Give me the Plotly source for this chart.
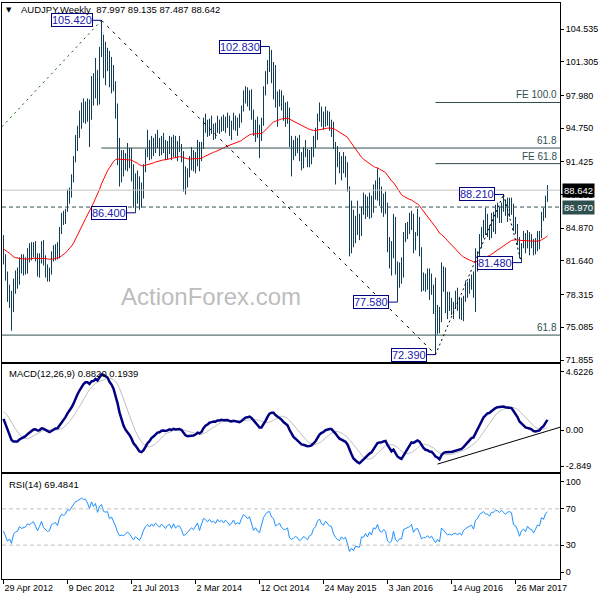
import pandas as pd
import plotly.graph_objects as go

# ---------------- data ----------------
first_week = "2012-04-29"

# weekly closes of the 40 weeks before the first visible bar (off the left edge);
# they only warm up the EMA / MACD / RSI so the indicators start where the chart shows them
pre_close = [84.6, 83.1, 80.3, 80.0, 80.6, 81.1, 80.0, 80.2, 75.7, 74.8,
             76.0, 79.0, 78.9, 81.2, 81.5, 80.4, 78.8, 75.5, 79.5, 79.3,
             77.9, 78.5, 79.3, 79.6, 79.8, 81.5, 81.6, 81.9, 82.5, 84.6,
             86.4, 87.5, 87.2, 87.9, 87.0, 85.6, 84.2, 83.8, 84.6, 84.6]

high = [84.2, 82.3, 80.6, 79.3, 78.7, 79.9, 80.7, 81.0, 82.0, 82.3,
        82.3, 82.0, 82.9, 83.4, 83.5, 83.5, 83.6, 82.4, 82.4, 83.6,
        83.7, 82.2, 81.3, 81.0, 82.6, 83.2, 83.3, 83.5, 85.0, 86.4,
        86.6, 86.8, 88.7, 88.9, 90.2, 92.0, 94.1, 95.0, 96.5, 97.3,
        97.7, 97.4, 97.7, 97.6, 99.9, 100.2, 101.7, 100.5, 102.8, 105.42,
        104.0, 103.3, 102.7, 102.4, 101.8, 101.0, 99.4, 97.2, 93.8, 92.6,
        92.6, 92.3, 93.3, 92.8, 92.8, 91.2, 90.3, 90.6, 90.0, 89.4,
        91.2, 92.7, 94.6, 93.6, 94.0, 93.8, 94.2, 94.6, 93.8, 94.0,
        94.3, 93.6, 93.5, 94.0, 93.9, 94.1, 94.0, 93.5, 94.0, 93.2,
        92.5, 91.0, 90.8, 92.0, 92.9, 92.6, 92.4, 93.6, 93.4, 93.4,
        95.8, 96.2, 95.6, 95.7, 96.0, 95.2, 95.3, 96.0, 95.6, 95.9,
        96.1, 95.9, 96.3, 96.0, 95.5, 96.3, 96.0, 95.8, 96.2, 97.0,
        98.5, 98.9, 98.8, 98.5, 98.6, 96.6, 95.6, 95.9, 95.1, 95.8,
        98.9, 100.4, 101.5, 102.83, 102.5, 101.3, 101.0, 98.4, 98.6, 98.5,
        98.0, 97.3, 97.4, 96.8, 94.0, 93.6, 94.0, 93.8, 94.1, 92.4,
        92.9, 93.6, 92.7, 92.6, 92.9, 94.0, 94.8, 96.2, 97.3, 96.9,
        96.4, 96.9, 96.5, 96.4, 95.6, 95.4, 93.4, 93.0, 92.4, 92.0,
        92.4, 92.0, 91.4, 89.0, 87.6, 86.7, 86.1, 87.6, 86.3, 87.0,
        88.4, 88.2, 88.0, 88.4, 88.1, 89.2, 89.6, 90.8, 89.9, 89.0,
        88.3, 88.5, 87.4, 84.0, 83.6, 86.3, 86.0, 81.6, 81.5, 82.0,
        84.5, 85.4, 85.5, 86.4, 86.6, 86.3, 84.5, 86.8, 86.0, 83.0,
        80.5, 80.4, 80.9, 80.9, 80.4, 79.3, 80.0, 77.3, 77.1, 81.5,
        81.1, 81.0, 78.6, 78.6, 78.0, 77.6, 78.7, 79.0, 78.1, 78.0,
        78.2, 79.7, 79.6, 79.9, 80.3, 80.6, 82.9, 82.6, 84.3, 85.0,
        85.7, 86.9, 86.3, 85.2, 86.4, 86.5, 87.2, 87.4, 87.0, 87.4,
        88.21, 87.7, 87.9, 87.9, 87.9, 87.3, 86.0, 85.3, 84.0, 83.4,
        84.6, 84.4, 84.7, 84.5, 84.3, 83.8, 83.9, 84.6, 84.6, 86.5,
        86.9, 88.1, 89.135]

low = [81.3, 79.7, 77.6, 77.0, 74.75, 76.6, 78.4, 78.9, 79.3, 80.4,
       80.2, 80.3, 80.4, 81.5, 81.7, 82.0, 81.6, 80.1, 80.0, 81.4,
       81.2, 80.0, 79.6, 79.6, 80.3, 81.6, 81.7, 81.8, 81.9, 84.3,
       85.2, 85.3, 86.5, 87.3, 87.9, 89.4, 91.4, 92.5, 93.8, 94.7,
       95.3, 95.2, 95.4, 92.9, 95.6, 97.0, 97.7, 97.0, 97.1, 101.8,
       99.7, 99.0, 100.4, 98.8, 98.2, 98.4, 95.7, 91.1, 89.0, 89.4,
       90.0, 90.6, 90.5, 90.8, 89.5, 86.9, 86.40, 87.3, 86.7, 86.9,
       87.8, 90.4, 91.9, 91.6, 91.7, 92.0, 92.3, 92.8, 92.0, 92.1,
       92.3, 91.6, 91.7, 92.2, 91.6, 91.9, 91.8, 91.5, 92.4, 91.4,
       88.5, 88.2, 88.9, 89.9, 90.6, 90.5, 90.3, 91.0, 90.5, 91.5,
       92.7, 94.3, 93.9, 94.0, 94.2, 93.6, 93.7, 94.3, 94.2, 94.4,
       94.5, 94.3, 94.8, 94.0, 93.6, 94.6, 94.5, 94.0, 94.8, 95.3,
       96.4, 97.2, 96.9, 96.5, 95.6, 94.0, 93.4, 93.8, 91.8, 93.5,
       95.0, 98.0, 99.1, 100.3, 99.2, 97.6, 96.8, 94.9, 96.9, 96.5,
       95.5, 94.9, 95.2, 92.9, 90.0, 91.6, 92.0, 92.3, 91.5, 90.6,
       90.8, 91.9, 90.9, 90.9, 91.2, 91.9, 92.8, 93.6, 95.4, 94.9,
       94.6, 94.9, 95.0, 94.5, 93.9, 92.7, 89.2, 90.9, 90.3, 89.6,
       90.3, 89.9, 88.5, 82.1, 82.4, 83.0, 83.4, 84.2, 83.7, 84.1,
       86.2, 85.8, 86.0, 85.8, 85.9, 86.4, 87.7, 87.6, 87.1, 86.4,
       86.0, 86.3, 82.5, 80.9, 80.2, 81.9, 80.3, 77.58, 79.0, 79.4,
       80.0, 83.5, 83.8, 84.3, 84.7, 82.4, 82.7, 84.1, 82.1, 78.6,
       78.7, 78.6, 78.8, 77.8, 78.3, 76.4, 72.39, 74.4, 74.5, 75.6,
       78.6, 76.5, 75.9, 76.7, 76.3, 75.9, 76.9, 76.7, 75.9, 75.8,
       75.7, 77.6, 78.0, 78.4, 78.8, 78.0, 76.6, 80.6, 81.5, 82.9,
       83.9, 84.2, 84.0, 83.7, 83.9, 84.5, 84.3, 85.9, 85.4, 85.4,
       86.5, 86.1, 85.5, 86.0, 86.2, 84.6, 84.3, 83.2, 81.9, 81.48,
       82.9, 82.4, 82.9, 82.2, 82.9, 82.2, 82.3, 82.6, 82.8, 83.9,
       85.6, 85.9, 87.487]

close = [82.0, 80.0, 77.8, 78.4, 76.1, 78.9, 79.7, 79.9, 81.6, 80.9,
         81.3, 81.4, 82.4, 82.2, 82.7, 83.1, 82.0, 80.6, 81.8, 83.5,
         81.6, 81.1, 80.3, 80.5, 82.3, 82.7, 83.0, 82.2, 84.7, 86.3,
         86.0, 86.6, 88.6, 88.4, 89.9, 91.4, 93.9, 94.4, 95.2, 96.8,
         96.5, 96.9, 96.1, 95.0, 99.4, 98.2, 100.6, 98.0, 102.5, 104.2,
         101.8, 101.5, 101.9, 99.2, 100.4, 98.8, 96.5, 93.5, 91.0, 91.3,
         91.0, 91.6, 92.5, 91.4, 90.0, 88.2, 89.3, 88.1, 87.2, 88.5,
         90.8, 92.3, 93.2, 92.2, 93.5, 92.6, 93.9, 93.2, 92.4, 93.6,
         92.7, 92.0, 93.1, 93.5, 92.1, 93.8, 92.3, 93.0, 93.0, 91.8,
         89.6, 89.8, 90.5, 91.2, 91.8, 91.2, 92.0, 93.2, 90.9, 92.9,
         95.4, 95.0, 94.3, 95.3, 94.5, 94.8, 94.2, 95.6, 94.9, 95.5,
         94.8, 95.7, 95.2, 94.4, 95.0, 96.0, 94.9, 95.4, 95.1, 96.7,
         98.1, 97.8, 97.2, 97.9, 96.0, 94.4, 95.1, 94.1, 93.6, 95.5,
         98.5, 99.9, 101.1, 101.3, 99.9, 99.5, 97.3, 97.7, 98.2, 97.0,
         96.3, 96.3, 96.7, 93.2, 92.6, 92.9, 93.3, 92.8, 91.7, 92.0,
         92.6, 92.1, 91.5, 92.3, 92.5, 93.8, 94.3, 95.8, 96.4, 95.4,
         95.0, 96.1, 95.6, 95.0, 94.9, 93.0, 92.0, 91.2, 90.9, 91.6,
         90.9, 91.2, 89.0, 84.9, 85.6, 84.0, 85.0, 84.6, 84.4, 86.8,
         86.6, 87.6, 86.3, 87.6, 86.6, 88.7, 88.3, 89.8, 87.5, 87.0,
         87.8, 87.2, 82.9, 81.9, 82.3, 85.6, 80.8, 79.6, 80.6, 80.5,
         84.2, 84.6, 84.9, 85.4, 86.3, 82.9, 84.2, 84.5, 82.3, 79.1,
         79.6, 79.5, 80.2, 79.0, 79.6, 77.6, 76.0, 77.0, 75.6, 80.8,
         79.5, 78.3, 77.2, 77.5, 77.0, 77.4, 77.7, 76.8, 77.5, 76.5,
         78.0, 78.6, 79.1, 79.4, 79.7, 78.5, 81.6, 82.2, 84.0, 84.6,
         85.4, 84.8, 84.8, 84.3, 85.9, 85.9, 86.7, 86.6, 86.3, 87.1,
         86.8, 86.4, 87.1, 87.3, 87.1, 84.9, 84.7, 83.7, 82.0, 83.2,
         83.6, 82.9, 84.2, 83.5, 83.4, 82.5, 83.3, 84.3, 84.1, 86.4,
         86.0, 87.997, 88.642]

assert len(high) == len(low) == len(close)

# drawn levels / objects
fib_618_high = 92.80     # 61.8% of 105.42 -> 72.39
fib_618_low = 74.32      # lower 61.8% retracement
fe_100 = 97.30
fe_618 = 91.26
dashed_level = 86.97
last_price = 88.642
green_line_start = 94.9  # where the dotted green up-trend line enters the chart

# (week index, price) of the boxed swing labels
swing_points = [(49, 105.42), (66, 86.40), (133, 102.83), (197, 77.58),
                (216, 72.39), (250, 88.21), (259, 81.48)]
macd_trend = [(217, -2.70), (None, 0.22)]

price_ticks = [104.535, 101.305, 97.980, 94.750, 91.425, 88.195, 84.870,
               81.640, 78.315, 75.085, 71.855]
macd_ticks = [4.6226, 0.0, -2.849]
macd_tick_text = ["4.6226", "0.00", "-2.849"]
rsi_ticks = [100, 70, 30, 0]
rsi_levels = [70, 30]

header_text = "AUDJPY,Weekly\u00a0\u00a087.997 89.135 87.487 88.642"
macd_text = "MACD(12,26,9) 0.8820 0.1939"
rsi_text = "RSI(14) 69.4841"

# ---------------- indicators ----------------
dates = pd.date_range(first_week, periods=len(close), freq="7D")
n0 = len(pre_close)
full = pd.Series(pre_close + close, dtype=float)
ma55 = full.ewm(span=55, adjust=False).mean().iloc[n0:].to_numpy()
macd_full = full.ewm(span=12, adjust=False).mean() - full.ewm(span=26, adjust=False).mean()
signal_full = macd_full.rolling(9).mean()
macd = macd_full.iloc[n0:].to_numpy()
signal = signal_full.iloc[n0:].to_numpy()
delta = full.diff().fillna(0)
ag = delta.clip(lower=0).ewm(alpha=1 / 14, adjust=False).mean()
al = (-delta).clip(lower=0).ewm(alpha=1 / 14, adjust=False).mean()
rsi = (100 - 100 / (1 + ag / al)).iloc[n0:].to_numpy()
opens = [pre_close[-1]] + close[:-1]

week = pd.Timedelta(days=7)
# 2 px per week; the quarter-week offset puts each 1px bar on a pixel centre
x_lo = dates[0] - 0.75 * week
x_hi = x_lo + 279 * week

BAR = "#123d57"
SLATE = "#2F4F4F"
FONT = "Liberation Sans"

fig = go.Figure()
fig.add_trace(go.Ohlc(x=dates, open=opens, high=high, low=low, close=close,
                      increasing=dict(line=dict(color=BAR, width=1)),
                      decreasing=dict(line=dict(color=BAR, width=1)),
                      tickwidth=0.1, xaxis="x", yaxis="y", hoverinfo="skip"))
fig.add_trace(go.Scatter(x=dates, y=ma55, mode="lines", line=dict(color="#FF0000", width=1),
                         xaxis="x", yaxis="y", hoverinfo="skip"))
fig.add_trace(go.Scatter(x=dates, y=signal, mode="lines", line=dict(color="#C0C0C0", width=1),
                         xaxis="x2", yaxis="y2", hoverinfo="skip"))
fig.add_trace(go.Scatter(x=dates, y=macd, mode="lines", line=dict(color="#000080", width=2.5),
                         xaxis="x2", yaxis="y2", hoverinfo="skip"))
fig.add_trace(go.Scatter(x=dates, y=rsi, mode="lines", line=dict(color="#1E90FF", width=1),
                         xaxis="x3", yaxis="y3", hoverinfo="skip"))

shapes = []


def seg(x0, y0, x1, y1, color, dash="solid", xref="x", yref="y", width=1):
    shapes.append(dict(type="line", xref=xref, yref=yref, x0=x0, y0=y0, x1=x1, y1=y1,
                       line=dict(color=color, width=width, dash=dash), layer="above"))


# horizontal levels
seg(x_lo, last_price, x_hi, last_price, "#C0C0C0")
seg(x_lo, dashed_level, x_hi, dashed_level, SLATE, "4px,3px")
seg(dates[49], fib_618_high, x_hi, fib_618_high, SLATE)
seg(x_lo, fib_618_low, x_hi, fib_618_low, SLATE)
seg(dates[216], fe_100, x_hi, fe_100, SLATE)
seg(dates[216], fe_618, x_hi, fe_618, SLATE)
# trend lines
seg(x_lo, green_line_start, dates[49], 105.42, "#006400", "2px,4px")
seg(dates[49], 105.42, dates[216], 72.39, "#000000", "3px,5px")
seg(dates[216], 72.39, dates[250], 88.21, "#000000", "2px,3px")
seg(dates[250], 88.21, dates[259], 81.48, "#000000", "2px,3px")
# MACD trend line
seg(dates[macd_trend[0][0]], macd_trend[0][1], x_hi, macd_trend[1][1], "#000000",
    xref="x2", yref="y2")
# RSI levels
for lv in rsi_levels:
    seg(x_lo, lv, x_hi, lv, "#C0C0C0", "4px,3px", xref="x3", yref="y3")
# label connectors
for i, v in swing_points:
    shapes.append(dict(type="line", xref="x", yref="y", xsizemode="pixel", xanchor=dates[i],
                       x0=-9, x1=0, y0=v, y1=v, line=dict(color="#000080", width=1),
                       layer="above"))

annotations = []
for i, v in swing_points:
    annotations.append(dict(x=dates[i], y=v, xref="x", yref="y", text=f"{v:.3f}",
                            showarrow=False, xanchor="right", yanchor="middle", xshift=-9,
                            bordercolor="#000080", borderwidth=1, borderpad=0,
                            bgcolor="white", font=dict(family=FONT, size=11, color="#2020b0")))

for txt, lv in [("61.8", fib_618_high), ("61.8", fib_618_low), ("FE 100.0", fe_100),
                ("FE 61.8", fe_618)]:
    annotations.append(dict(x=1, y=lv, xref="paper", yref="y", text=txt, showarrow=False,
                            xanchor="right", yanchor="bottom", xshift=-1, yshift=0,
                            font=dict(family=FONT, size=10, color=SLATE)))

# right-axis price boxes
for txt, lv, bg in [(f"{last_price:.3f}", last_price, "#000000"),
                    (f"{dashed_level:.3f}", dashed_level, SLATE)]:
    annotations.append(dict(x=1, y=lv, xref="paper", yref="y", text=txt, showarrow=False,
                            xanchor="left", yanchor="middle", xshift=2, bgcolor=bg,
                            borderpad=1, font=dict(family=FONT, size=9.5, color="white")))

# titles / watermark
annotations += [
    dict(x=0.0125, y=0.9879, xref="paper", yref="paper", text="\u25bc", showarrow=False,
         xanchor="center", yanchor="middle", font=dict(family="DejaVu Sans", size=7, color="black")),
    dict(x=0.0305, y=0.9879, xref="paper", yref="paper", text=header_text, showarrow=False,
         xanchor="left", yanchor="middle", font=dict(family=FONT, size=9.5, color="black")),
    dict(x=0.009, y=0.3576, xref="paper", yref="paper", text=macd_text, showarrow=False,
         xanchor="left", yanchor="middle", font=dict(family=FONT, size=9.5, color="black")),
    dict(x=0.009, y=0.1649, xref="paper", yref="paper", text=rsi_text, showarrow=False,
         xanchor="left", yanchor="middle", font=dict(family=FONT, size=9.5, color="black")),
    dict(x=0.3746, y=0.4896, xref="paper", yref="paper", text="ActionForex.com", showarrow=False,
         xanchor="center", yanchor="middle", font=dict(family=FONT, size=24, color="#bdbdbd")),
]

axis_common = dict(showgrid=False, zeroline=False, showline=True, mirror=True,
                   linecolor="black", linewidth=1, automargin=False)
tickfont = dict(family=FONT, size=9, color="black")

fig.update_layout(
    template="none",
    width=600, height=600,
    margin=dict(l=2, r=40, t=3, b=21, autoexpand=False),
    paper_bgcolor="white", plot_bgcolor="white",
    showlegend=False,
    hovermode=False,
    xaxis=dict(**axis_common, type="date", range=[x_lo, x_hi], anchor="y",
               showticklabels=False, ticks="", rangeslider=dict(visible=False)),
    xaxis2=dict(**axis_common, matches="x", anchor="y2", showticklabels=False, ticks=""),
    xaxis3=dict(**axis_common, matches="x", anchor="y3", tickvals=list(dates[::32]),
                tickformat="%-d %b %Y", ticks="outside", ticklen=4, tickcolor="black",
                ticklabelposition="outside right", tickfont=tickfont),
    yaxis=dict(**axis_common, domain=[0.37674, 1.0], anchor="x", side="right",
               range=[71.66, 107.13], tickvals=price_ticks,
               ticktext=[f"{v:.3f}" for v in price_ticks], ticks="outside", ticklen=3,
               tickcolor="black", tickfont=tickfont),
    yaxis2=dict(**axis_common, domain=[0.18576, 0.37326], anchor="x2", side="right",
                range=[-3.324, 5.23], tickvals=macd_ticks, ticktext=macd_tick_text,
                ticks="outside", ticklen=3, tickcolor="black", tickfont=tickfont),
    yaxis3=dict(**axis_common, domain=[0.0, 0.18229], anchor="x3", side="right",
                range=[-7.4, 108.5], tickvals=rsi_ticks, ticktext=[str(v) for v in rsi_ticks],
                ticks="outside", ticklen=3, tickcolor="black", tickfont=tickfont),
    shapes=shapes,
    annotations=annotations,
)

# the page's default 8px body margin would shift the 600x600 figure; remove it
fig.write_html("out.html", config={"displayModeBar": False},
               post_script="document.body.style.margin='0';")
